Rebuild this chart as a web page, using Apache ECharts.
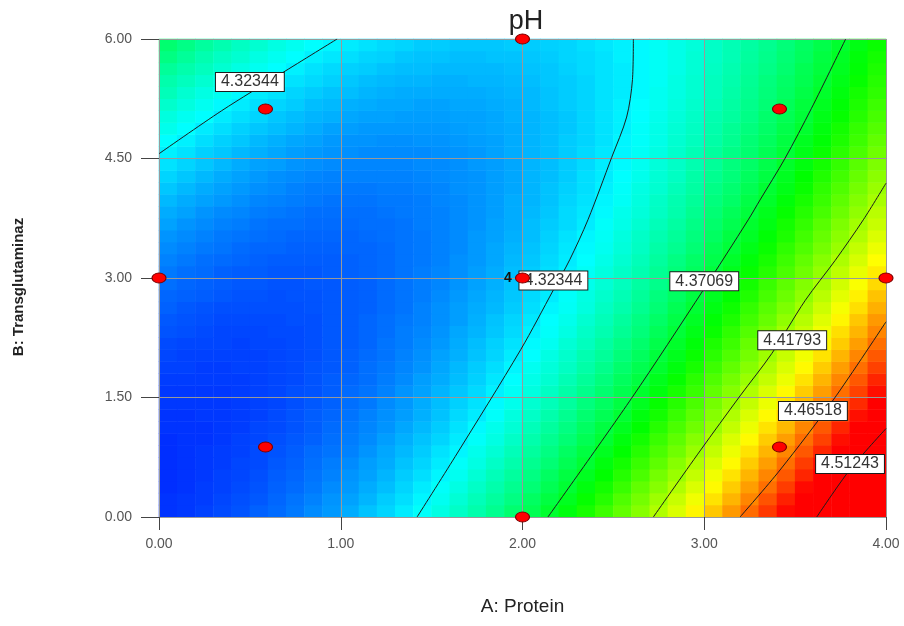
<!DOCTYPE html>
<html>
<head>
<meta charset="utf-8">
<title>pH</title>
<script src="https://cdn.jsdelivr.net/npm/echarts@6/dist/echarts.min.js"></script>
<style>
  html, body { margin: 0; padding: 0; background: #ffffff; }
  #chart { width: 904px; height: 626px; }
</style>
</head>
<body>
<div id="chart"></div>
<script>
// Cell centres of the response-surface grid
const proteinCells = [0.05,0.15,0.25,0.35,0.45,0.55,0.65,0.75,0.85,0.95,1.05,1.15,1.25,1.35,1.45,1.55,1.65,1.75,1.85,1.95,
  2.05,2.15,2.25,2.35,2.45,2.55,2.65,2.75,2.85,2.95,3.05,3.15,3.25,3.35,3.45,3.55,3.65,3.75,3.85,3.95];
const transCells = [0.075,0.225,0.375,0.525,0.675,0.825,0.975,1.125,1.275,1.425,1.575,1.725,1.875,2.025,2.175,2.325,2.475,2.625,2.775,2.925,
  3.075,3.225,3.375,3.525,3.675,3.825,3.975,4.125,4.275,4.425,4.575,4.725,4.875,5.025,5.175,5.325,5.475,5.625,5.775,5.925];

// Predicted pH, one row per transCells entry (bottom row first), one column per proteinCells entry
const phRows = [
[4.281,4.282,4.284,4.286,4.288,4.291,4.293,4.296,4.300,4.303,4.307,4.312,4.316,4.321,4.326,4.331,4.337,4.343,4.349,4.356,4.362,4.370,4.377,4.385,4.393,4.401,4.409,4.418,4.427,4.437,4.447,4.457,4.467,4.478,4.488,4.500,4.511,4.523,4.535,4.547],
[4.281,4.282,4.283,4.285,4.287,4.289,4.292,4.295,4.298,4.302,4.305,4.309,4.314,4.318,4.323,4.328,4.334,4.340,4.346,4.352,4.359,4.366,4.373,4.381,4.388,4.397,4.405,4.414,4.423,4.432,4.441,4.451,4.461,4.472,4.483,4.494,4.505,4.517,4.528,4.541],
[4.280,4.281,4.283,4.284,4.286,4.288,4.291,4.293,4.296,4.300,4.303,4.307,4.311,4.316,4.321,4.326,4.331,4.337,4.343,4.349,4.355,4.362,4.369,4.377,4.384,4.392,4.401,4.409,4.418,4.427,4.436,4.446,4.456,4.466,4.477,4.488,4.499,4.510,4.522,4.534],
[4.280,4.281,4.282,4.284,4.285,4.287,4.290,4.292,4.295,4.298,4.302,4.305,4.309,4.314,4.318,4.323,4.328,4.334,4.340,4.346,4.352,4.359,4.366,4.373,4.380,4.388,4.396,4.405,4.413,4.422,4.432,4.441,4.451,4.461,4.471,4.482,4.493,4.504,4.516,4.528],
[4.280,4.281,4.282,4.283,4.285,4.286,4.289,4.291,4.294,4.297,4.300,4.304,4.307,4.312,4.316,4.321,4.326,4.331,4.337,4.343,4.349,4.355,4.362,4.369,4.377,4.384,4.392,4.400,4.409,4.418,4.427,4.436,4.446,4.456,4.466,4.477,4.487,4.498,4.510,4.522],
[4.280,4.281,4.282,4.283,4.284,4.286,4.288,4.290,4.293,4.295,4.298,4.302,4.306,4.310,4.314,4.319,4.323,4.329,4.334,4.340,4.346,4.352,4.359,4.366,4.373,4.380,4.388,4.396,4.404,4.413,4.422,4.431,4.441,4.451,4.461,4.471,4.482,4.493,4.504,4.516],
[4.280,4.281,4.281,4.282,4.284,4.285,4.287,4.289,4.291,4.294,4.297,4.300,4.304,4.308,4.312,4.316,4.321,4.326,4.331,4.337,4.343,4.349,4.355,4.362,4.369,4.377,4.384,4.392,4.400,4.409,4.418,4.427,4.436,4.446,4.456,4.466,4.476,4.487,4.498,4.510],
[4.281,4.281,4.281,4.282,4.283,4.285,4.286,4.288,4.290,4.293,4.296,4.299,4.302,4.306,4.310,4.314,4.319,4.324,4.329,4.334,4.340,4.346,4.352,4.359,4.366,4.373,4.380,4.388,4.396,4.404,4.413,4.422,4.431,4.441,4.450,4.461,4.471,4.482,4.492,4.504],
[4.281,4.281,4.282,4.282,4.283,4.284,4.286,4.288,4.290,4.292,4.295,4.298,4.301,4.304,4.308,4.312,4.317,4.321,4.326,4.332,4.337,4.343,4.349,4.356,4.362,4.369,4.377,4.384,4.392,4.400,4.409,4.418,4.427,4.436,4.446,4.455,4.466,4.476,4.487,4.498],
[4.282,4.282,4.282,4.282,4.283,4.284,4.285,4.287,4.289,4.291,4.294,4.296,4.300,4.303,4.307,4.311,4.315,4.319,4.324,4.329,4.335,4.340,4.346,4.353,4.359,4.366,4.373,4.381,4.388,4.396,4.405,4.413,4.422,4.431,4.441,4.450,4.461,4.471,4.481,4.492],
[4.282,4.282,4.282,4.282,4.283,4.284,4.285,4.287,4.288,4.290,4.293,4.295,4.298,4.302,4.305,4.309,4.313,4.317,4.322,4.327,4.332,4.338,4.344,4.350,4.356,4.363,4.370,4.377,4.385,4.392,4.401,4.409,4.418,4.427,4.436,4.446,4.456,4.466,4.476,4.487],
[4.283,4.283,4.283,4.283,4.283,4.284,4.285,4.286,4.288,4.290,4.292,4.294,4.297,4.300,4.304,4.307,4.311,4.315,4.320,4.325,4.330,4.335,4.341,4.347,4.353,4.360,4.366,4.374,4.381,4.389,4.397,4.405,4.413,4.422,4.431,4.441,4.451,4.461,4.471,4.482],
[4.284,4.284,4.283,4.283,4.284,4.284,4.285,4.286,4.288,4.289,4.291,4.294,4.296,4.299,4.302,4.306,4.310,4.314,4.318,4.323,4.328,4.333,4.338,4.344,4.350,4.357,4.363,4.370,4.377,4.385,4.393,4.401,4.409,4.418,4.427,4.436,4.446,4.456,4.466,4.476],
[4.285,4.284,4.284,4.284,4.284,4.284,4.285,4.286,4.287,4.289,4.291,4.293,4.295,4.298,4.301,4.305,4.308,4.312,4.316,4.321,4.325,4.331,4.336,4.342,4.347,4.354,4.360,4.367,4.374,4.382,4.389,4.397,4.405,4.414,4.423,4.432,4.441,4.451,4.461,4.471],
[4.286,4.285,4.285,4.285,4.284,4.285,4.285,4.286,4.287,4.289,4.290,4.292,4.295,4.297,4.300,4.303,4.307,4.311,4.315,4.319,4.324,4.328,4.334,4.339,4.345,4.351,4.357,4.364,4.371,4.378,4.386,4.393,4.402,4.410,4.419,4.428,4.437,4.446,4.456,4.466],
[4.288,4.287,4.286,4.285,4.285,4.285,4.286,4.286,4.287,4.289,4.290,4.292,4.294,4.297,4.299,4.302,4.306,4.309,4.313,4.317,4.322,4.326,4.331,4.337,4.342,4.348,4.354,4.361,4.368,4.375,4.382,4.390,4.398,4.406,4.415,4.423,4.432,4.442,4.451,4.461],
[4.289,4.288,4.287,4.286,4.286,4.286,4.286,4.287,4.287,4.289,4.290,4.292,4.294,4.296,4.298,4.301,4.304,4.308,4.312,4.316,4.320,4.325,4.329,4.335,4.340,4.346,4.352,4.358,4.365,4.372,4.379,4.386,4.394,4.402,4.411,4.419,4.428,4.437,4.447,4.457],
[4.291,4.289,4.288,4.287,4.287,4.287,4.287,4.287,4.288,4.289,4.290,4.291,4.293,4.295,4.298,4.301,4.304,4.307,4.310,4.314,4.318,4.323,4.327,4.332,4.338,4.343,4.349,4.355,4.362,4.369,4.376,4.383,4.391,4.399,4.407,4.415,4.424,4.433,4.442,4.452],
[4.292,4.291,4.290,4.289,4.288,4.288,4.287,4.288,4.288,4.289,4.290,4.291,4.293,4.295,4.297,4.300,4.303,4.306,4.309,4.313,4.317,4.321,4.326,4.331,4.336,4.341,4.347,4.353,4.359,4.366,4.373,4.380,4.387,4.395,4.403,4.411,4.420,4.429,4.438,4.448],
[4.294,4.292,4.291,4.290,4.289,4.289,4.288,4.288,4.289,4.289,4.290,4.291,4.293,4.295,4.297,4.299,4.302,4.305,4.308,4.312,4.315,4.320,4.324,4.329,4.334,4.339,4.345,4.350,4.357,4.363,4.370,4.377,4.384,4.392,4.400,4.408,4.416,4.425,4.434,4.443],
[4.296,4.294,4.293,4.291,4.290,4.290,4.289,4.289,4.289,4.290,4.291,4.292,4.293,4.295,4.297,4.299,4.301,4.304,4.307,4.311,4.314,4.318,4.322,4.327,4.332,4.337,4.342,4.348,4.354,4.360,4.367,4.374,4.381,4.388,4.396,4.404,4.412,4.421,4.430,4.439],
[4.298,4.296,4.294,4.293,4.292,4.291,4.290,4.290,4.290,4.290,4.291,4.292,4.293,4.295,4.296,4.298,4.301,4.303,4.306,4.310,4.313,4.317,4.321,4.325,4.330,4.335,4.340,4.346,4.352,4.358,4.364,4.371,4.378,4.385,4.393,4.401,4.409,4.417,4.426,4.435],
[4.300,4.298,4.296,4.295,4.293,4.292,4.292,4.291,4.291,4.291,4.292,4.292,4.293,4.295,4.296,4.298,4.300,4.303,4.306,4.309,4.312,4.316,4.320,4.324,4.328,4.333,4.338,4.344,4.349,4.355,4.362,4.368,4.375,4.382,4.390,4.397,4.405,4.413,4.422,4.431],
[4.302,4.300,4.298,4.296,4.295,4.294,4.293,4.292,4.292,4.292,4.292,4.293,4.294,4.295,4.296,4.298,4.300,4.303,4.305,4.308,4.311,4.315,4.319,4.323,4.327,4.332,4.337,4.342,4.347,4.353,4.359,4.366,4.372,4.379,4.386,4.394,4.402,4.410,4.418,4.427],
[4.305,4.302,4.300,4.298,4.297,4.295,4.294,4.294,4.293,4.293,4.293,4.294,4.294,4.295,4.297,4.298,4.300,4.302,4.305,4.307,4.311,4.314,4.317,4.321,4.326,4.330,4.335,4.340,4.345,4.351,4.357,4.363,4.370,4.376,4.384,4.391,4.399,4.407,4.415,4.423],
[4.307,4.305,4.302,4.300,4.299,4.297,4.296,4.295,4.294,4.294,4.294,4.294,4.295,4.296,4.297,4.298,4.300,4.302,4.304,4.307,4.310,4.313,4.317,4.320,4.324,4.329,4.333,4.338,4.343,4.349,4.355,4.361,4.367,4.374,4.381,4.388,4.395,4.403,4.411,4.420],
[4.310,4.307,4.305,4.303,4.301,4.299,4.298,4.297,4.296,4.295,4.295,4.295,4.296,4.296,4.297,4.299,4.300,4.302,4.304,4.307,4.309,4.312,4.316,4.319,4.323,4.327,4.332,4.337,4.342,4.347,4.353,4.358,4.365,4.371,4.378,4.385,4.392,4.400,4.408,4.416],
[4.313,4.310,4.307,4.305,4.303,4.301,4.300,4.298,4.297,4.297,4.296,4.296,4.297,4.297,4.298,4.299,4.301,4.302,4.304,4.306,4.309,4.312,4.315,4.318,4.322,4.326,4.331,4.335,4.340,4.345,4.351,4.356,4.362,4.369,4.375,4.382,4.390,4.397,4.405,4.413],
[4.316,4.313,4.310,4.307,4.305,4.303,4.301,4.300,4.299,4.298,4.298,4.298,4.298,4.298,4.299,4.300,4.301,4.302,4.304,4.306,4.309,4.311,4.314,4.318,4.321,4.325,4.329,4.334,4.338,4.344,4.349,4.354,4.360,4.366,4.373,4.380,4.387,4.394,4.402,4.410],
[4.319,4.316,4.313,4.310,4.307,4.305,4.304,4.302,4.301,4.300,4.299,4.299,4.299,4.299,4.300,4.300,4.301,4.303,4.304,4.306,4.309,4.311,4.314,4.317,4.321,4.324,4.328,4.333,4.337,4.342,4.347,4.353,4.358,4.364,4.371,4.377,4.384,4.391,4.399,4.407],
[4.322,4.319,4.315,4.313,4.310,4.308,4.306,4.304,4.303,4.302,4.301,4.300,4.300,4.300,4.300,4.301,4.302,4.303,4.305,4.307,4.309,4.311,4.314,4.317,4.320,4.323,4.327,4.331,4.336,4.341,4.346,4.351,4.356,4.362,4.368,4.375,4.382,4.389,4.396,4.404],
[4.325,4.322,4.318,4.315,4.313,4.310,4.308,4.306,4.305,4.303,4.302,4.302,4.301,4.301,4.302,4.302,4.303,4.304,4.305,4.307,4.309,4.311,4.314,4.316,4.319,4.323,4.326,4.330,4.335,4.339,4.344,4.349,4.355,4.360,4.366,4.373,4.379,4.386,4.393,4.401],
[4.329,4.325,4.321,4.318,4.315,4.313,4.311,4.309,4.307,4.305,4.304,4.303,4.303,4.303,4.303,4.303,4.304,4.305,4.306,4.307,4.309,4.311,4.313,4.316,4.319,4.322,4.326,4.330,4.334,4.338,4.343,4.348,4.353,4.358,4.364,4.370,4.377,4.384,4.391,4.398],
[4.332,4.328,4.325,4.321,4.318,4.316,4.313,4.311,4.309,4.308,4.306,4.305,4.305,4.304,4.304,4.304,4.305,4.305,4.306,4.308,4.309,4.311,4.313,4.316,4.319,4.322,4.325,4.329,4.333,4.337,4.342,4.346,4.351,4.357,4.362,4.368,4.375,4.381,4.388,4.395],
[4.336,4.332,4.328,4.324,4.321,4.318,4.316,4.314,4.311,4.310,4.308,4.307,4.306,4.306,4.305,4.305,4.306,4.306,4.307,4.308,4.310,4.312,4.314,4.316,4.319,4.322,4.325,4.328,4.332,4.336,4.340,4.345,4.350,4.355,4.361,4.367,4.373,4.379,4.386,4.393],
[4.340,4.335,4.331,4.328,4.324,4.321,4.319,4.316,4.314,4.312,4.311,4.309,4.308,4.307,4.307,4.307,4.307,4.307,4.308,4.309,4.310,4.312,4.314,4.316,4.319,4.321,4.324,4.328,4.331,4.335,4.339,4.344,4.349,4.354,4.359,4.365,4.371,4.377,4.384,4.390],
[4.343,4.339,4.335,4.331,4.328,4.325,4.322,4.319,4.317,4.315,4.313,4.311,4.310,4.309,4.309,4.308,4.308,4.309,4.309,4.310,4.311,4.313,4.314,4.316,4.319,4.321,4.324,4.327,4.331,4.335,4.339,4.343,4.348,4.353,4.358,4.363,4.369,4.375,4.381,4.388],
[4.347,4.343,4.339,4.335,4.331,4.328,4.325,4.322,4.319,4.317,4.315,4.314,4.312,4.311,4.311,4.310,4.310,4.310,4.310,4.311,4.312,4.313,4.315,4.317,4.319,4.321,4.324,4.327,4.330,4.334,4.338,4.342,4.347,4.351,4.356,4.362,4.367,4.373,4.379,4.386],
[4.352,4.347,4.342,4.338,4.335,4.331,4.328,4.325,4.322,4.320,4.318,4.316,4.315,4.313,4.312,4.312,4.311,4.311,4.312,4.312,4.313,4.314,4.316,4.317,4.319,4.322,4.324,4.327,4.330,4.334,4.337,4.341,4.346,4.350,4.355,4.360,4.366,4.372,4.378,4.384],
[4.356,4.351,4.346,4.342,4.338,4.335,4.331,4.328,4.325,4.323,4.321,4.319,4.317,4.316,4.314,4.314,4.313,4.313,4.313,4.314,4.314,4.315,4.316,4.318,4.320,4.322,4.324,4.327,4.330,4.333,4.337,4.341,4.345,4.349,4.354,4.359,4.364,4.370,4.376,4.382]
];

// Contour levels and the traced isolines (A, B pairs)
const contourLevels = [4.32344, 4.37069, 4.41793, 4.46518, 4.51243];
const contourUpperLeft = [[0,4.56],[0.345,5.10],[0.675,5.57],[0.98,6.0]];
const contourMiddle = [[1.42,0],[1.63,0.76],[1.99,2.10],[2.17,2.85],[2.26,3.23],[2.36,3.73],[2.49,4.51],[2.573,5.02],[2.605,5.49],[2.61,6.0]];
const contourSecond = [[2.14,0],[2.60,1.49],[2.995,2.85],[3.242,3.73],[3.307,3.98],[3.444,4.5],[3.59,5.13],[3.778,6.0]];
const contourThird = [[2.72,0],[2.977,0.83],[3.197,1.52],[3.371,2.05],[3.556,2.72],[3.72,3.22],[3.875,3.73],[4.0,4.19]];
const contourFourth = [[3.197,0],[3.417,0.59],[3.71,1.47],[4.0,2.45]];
const contourFifth = [[3.619,0],[3.80,0.59],[4.0,1.11]];
// Where each level tag sits: [A, B, index into contourLevels]
const contourTags = [[0.50,5.46,0],[2.17,2.97,0],[3.0,2.96,1],[3.484,2.22,2],[3.598,1.33,3],[3.802,0.665,4]];

// Design points and the number of runs at each
const designProtein = [0, 0.586, 0.586, 2, 2, 2, 3.414, 3.414, 4];
const designTrans = [3, 0.879, 5.121, 0, 3, 6, 0.879, 5.121, 3];
const designRuns = [1, 1, 1, 1, 4, 1, 1, 1, 1];

// Axis ticks
const proteinTicks = [0, 1, 2, 3, 4];
const transTicks = [0, 1.5, 3, 4.5, 6];

const FONT = 'Liberation Sans, Arial, Helvetica, sans-serif';

const heatData = [];
phRows.forEach((row, j) => row.forEach((v, i) => heatData.push([i, j, v])));

const isoline = (pts) => ({
  type: 'line',
  xAxisIndex: 1,
  yAxisIndex: 1,
  data: pts,
  smooth: 0.3,
  symbol: 'none',
  silent: true,
  z: 4,
  lineStyle: { color: '#1c1c1c', width: 1 }
});

const chart = echarts.init(document.getElementById('chart'), null, { renderer: 'canvas' });

chart.setOption({
  animation: false,
  backgroundColor: '#ffffff',
  textStyle: { fontFamily: FONT },
  title: {
    text: 'pH',
    left: 521,
    top: 3,
    textAlign: 'center',
    textStyle: { fontSize: 27, fontWeight: 'normal', color: '#222', fontFamily: FONT }
  },
  grid: { left: 159, right: 18, top: 39, bottom: 109, containLabel: false },
  visualMap: {
    type: 'continuous',
    show: false,
    seriesIndex: 0,
    min: 4.27,
    max: 4.49,
    inRange: { color: ['#0000ff', '#00ffff', '#00ff00', '#ffff00', '#ff0000'] }
  },
  xAxis: [
    { type: 'category', data: proteinCells, show: false, boundaryGap: true },
    {
      type: 'value',
      position: 'bottom',
      min: proteinTicks[0],
      max: proteinTicks[proteinTicks.length - 1],
      interval: proteinTicks[1] - proteinTicks[0],
      z: 3,
      name: 'A: Protein',
      nameLocation: 'middle',
      nameGap: 80,
      nameTextStyle: { fontSize: 19, color: '#222', fontFamily: FONT },
      axisLine: { show: false },
      axisTick: { show: true, length: 13, lineStyle: { color: '#444', width: 1 } },
      axisLabel: { margin: 20, fontSize: 14, color: '#555', fontFamily: FONT, formatter: v => v.toFixed(2) },
      splitLine: { show: true, lineStyle: { color: '#999', width: 1 } }
    }
  ],
  yAxis: [
    { type: 'category', data: transCells, show: false, boundaryGap: true },
    {
      type: 'value',
      position: 'left',
      min: transTicks[0],
      max: transTicks[transTicks.length - 1],
      interval: transTicks[1] - transTicks[0],
      z: 3,
      name: 'B: Transglutaminaz',
      nameLocation: 'middle',
      nameRotate: 90,
      nameGap: 133,
      nameTextStyle: { fontSize: 15, fontWeight: 'bold', color: '#222', fontFamily: FONT, padding: [0, 18, 0, 0] },
      axisLine: { show: false },
      axisTick: { show: true, length: 18, lineStyle: { color: '#444', width: 1 } },
      axisLabel: { margin: 27, fontSize: 14, color: '#555', fontFamily: FONT, formatter: v => v.toFixed(2) },
      splitLine: { show: true, lineStyle: { color: '#999', width: 1 } }
    }
  ],
  series: [
    {
      type: 'heatmap',
      xAxisIndex: 0,
      yAxisIndex: 0,
      data: heatData,
      z: 1,
      silent: true,
      emphasis: { disabled: true }
    },
    isoline(contourUpperLeft),
    isoline(contourMiddle),
    isoline(contourSecond),
    isoline(contourThird),
    isoline(contourFourth),
    isoline(contourFifth),
    {
      type: 'scatter',
      xAxisIndex: 1,
      yAxisIndex: 1,
      silent: true,
      z: 5,
      symbolSize: 1,
      itemStyle: { color: 'rgba(0,0,0,0)', opacity: 1 },
      data: contourTags.map(t => [t[0], t[1], contourLevels[t[2]]]),
      label: {
        show: true,
        position: 'inside',
        formatter: p => p.value[2].toFixed(5),
        fontSize: 16,
        lineHeight: 16,
        color: '#333',
        opacity: 1,
        fontFamily: FONT,
        backgroundColor: '#ffffff',
        borderColor: '#1c1c1c',
        borderWidth: 1,
        padding: [1, 5, 1, 5]
      }
    },
    {
      type: 'scatter',
      xAxisIndex: 1,
      yAxisIndex: 1,
      silent: true,
      z: 6,
      symbol: 'circle',
      symbolSize: [14, 10],
      itemStyle: { color: '#ff0000', borderColor: '#7a0000', borderWidth: 1, opacity: 1 },
      data: designProtein.map((a, k) => [a, designTrans[k], designRuns[k]]),
      label: {
        show: true,
        position: 'left',
        distance: 3,
        formatter: p => (p.value[2] > 1 ? String(p.value[2]) : ''),
        fontSize: 14,
        fontWeight: 'bold',
        color: '#111',
        fontFamily: FONT
      }
    }
  ]
});
</script>
</body>
</html>
